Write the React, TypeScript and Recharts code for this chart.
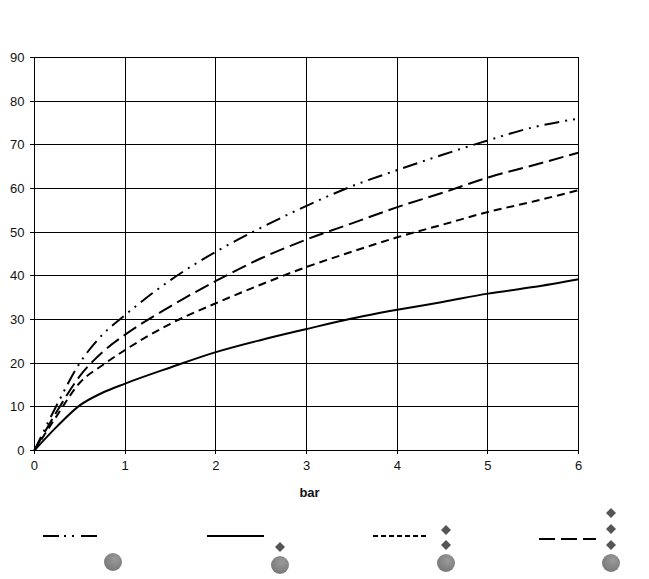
import { CartesianGrid, Label, Line, LineChart, XAxis, YAxis } from "recharts";

const bar = [0, 0.25, 0.5, 0.75, 1, 1.5, 2, 2.5, 3, 3.5, 4, 4.5, 5, 5.5, 6];
const solid = [0, 5.5, 10.3, 13.2, 15.3, 19, 22.5, 25.3, 27.8, 30.2, 32.2, 34, 35.9, 37.4, 39.2];
const shortDash = [0, 8, 15.5, 19.5, 23, 29, 33.7, 38, 42, 45.5, 48.8, 51.7, 54.6, 57, 59.6];
const longDash = [0, 9, 17, 22.5, 26.5, 33, 38.8, 44, 48.3, 52, 55.7, 59, 62.5, 65.3, 68.2];
const dashDot = [0, 10.5, 20, 26.5, 31, 39, 45.5, 51, 56, 60.5, 64.2, 67.7, 71, 74, 76];

const xTicks = [0, 1, 2, 3, 4, 5, 6];
const yTicks = [0, 10, 20, 30, 40, 50, 60, 70, 80, 90];

const DASH_DOT = "15 6 2 6 2 6";
const SHORT_DASH = "8 5";
const LONG_DASH = "15 6";

const rows = bar.map((b, i) => ({
  bar: b,
  solid: solid[i],
  shortDash: shortDash[i],
  longDash: longDash[i],
  dashDot: dashDot[i],
}));

// legend keys: line sample, then the stack of diamonds and the ball under it
const keys = [
  { x1: 43, x2: 97, y: 536, dash: "16 5 2 6 2 7", ballX: 113, ballY: 562, diamonds: [] as number[] },
  { x1: 207, x2: 264, y: 536, dash: undefined, ballX: 280, ballY: 565, diamonds: [547] },
  { x1: 373, x2: 428, y: 536, dash: "5 3", ballX: 446, ballY: 563, diamonds: [530, 545] },
  { x1: 539, x2: 596, y: 539, dash: "16 6", ballX: 611, ballY: 563, diamonds: [513, 529, 545] },
];

const tickStyle = { fontFamily: "Liberation Sans", fontSize: 13, fill: "#111" };

export default function App() {
  return (
    <div style={{ position: "absolute", left: 0, top: 0, width: 649, height: 579, background: "#fff" }}>
      <LineChart
        width={649}
        height={579}
        data={rows}
        margin={{ top: 57.4, right: 70.3, bottom: 98.6, left: 0 }}
      >
        <CartesianGrid stroke="#000" strokeWidth={1} shapeRendering="crispEdges" />
        <XAxis
          dataKey="bar"
          type="number"
          domain={[0, 6]}
          ticks={xTicks}
          height={30}
          interval={0}
          stroke="#000"
          tickSize={4}
          tickMargin={6}
          shapeRendering="crispEdges"
          tick={tickStyle}
        >
          <Label
            value="bar"
            position="insideBottom"
            offset={-17}
            dx={3}
            style={{ fontFamily: "Liberation Sans", fontSize: 13, fontWeight: "bold", fill: "#111" }}
          />
        </XAxis>
        <YAxis
          type="number"
          domain={[0, 90]}
          ticks={yTicks}
          width={34.4}
          interval={0}
          stroke="#000"
          tickSize={4}
          tickMargin={6}
          shapeRendering="crispEdges"
          tick={tickStyle}
        />
        <Line dataKey="solid" type="monotone" stroke="#000" strokeWidth={2} dot={false} isAnimationActive={false} />
        <Line dataKey="shortDash" type="monotone" stroke="#000" strokeWidth={2} strokeDasharray={SHORT_DASH} dot={false} isAnimationActive={false} />
        <Line dataKey="longDash" type="monotone" stroke="#000" strokeWidth={2} strokeDasharray={LONG_DASH} dot={false} isAnimationActive={false} />
        <Line dataKey="dashDot" type="monotone" stroke="#000" strokeWidth={2} strokeDasharray={DASH_DOT} dot={false} isAnimationActive={false} />
      </LineChart>
      <svg width={649} height={579} style={{ position: "absolute", left: 0, top: 0, pointerEvents: "none" }}>
        <defs>
          <radialGradient id="ball" cx="0.6" cy="0.35" r="0.7">
            <stop offset="0%" stopColor="#9a9a9a" />
            <stop offset="100%" stopColor="#777" />
          </radialGradient>
        </defs>
        {keys.map((k) => (
          <g key={k.x1}>
            <line x1={k.x1} x2={k.x2} y1={k.y} y2={k.y} stroke="#000" strokeWidth={2} strokeDasharray={k.dash} />
            <circle cx={k.ballX} cy={k.ballY} r={9} fill="url(#ball)" />
            {k.diamonds.map((d) => (
              <path key={d} d={`M${k.ballX} ${d - 5}L${k.ballX + 5} ${d}L${k.ballX} ${d + 5}L${k.ballX - 5} ${d}Z`} fill="#555" />
            ))}
          </g>
        ))}
      </svg>
    </div>
  );
}
